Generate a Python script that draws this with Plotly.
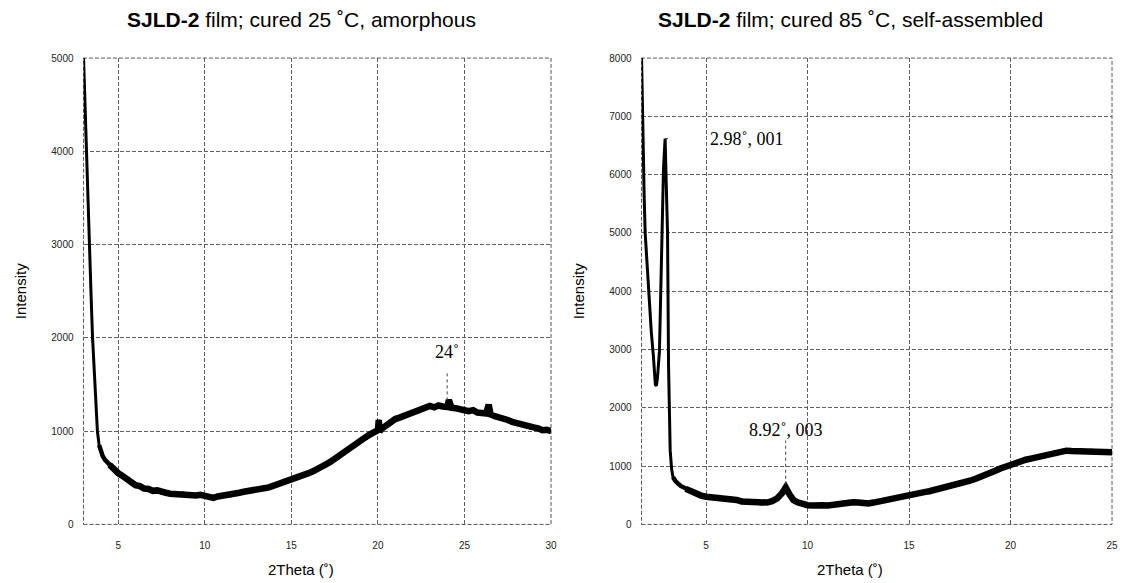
import plotly.graph_objects as go

# XRD scan of the film cured at 25 C (2Theta in degrees, intensity in counts)
theta_25 = [3.0, 3.08, 3.17, 3.25, 3.34, 3.43, 3.52, 3.6, 3.7, 3.8, 3.9, 4.0, 4.1, 4.25,
            4.5, 4.75, 5.0, 5.25, 5.5, 5.75, 6.0, 6.25, 6.5, 6.75, 7.0, 7.25, 7.5, 7.75,
            8.0, 8.25, 8.5, 8.75, 9.0, 9.25, 9.5, 9.75, 10.0, 10.25, 10.5, 10.75, 11.0,
            11.25, 11.5, 11.75, 12.0, 12.25, 12.5, 12.75, 13.0, 13.25, 13.5, 13.75, 14.0,
            14.25, 14.5, 14.75, 15.0, 15.25, 15.5, 15.75, 16.0, 16.25, 16.5, 16.75, 17.0,
            17.25, 17.5, 17.75, 18.0, 18.25, 18.5, 18.75, 19.0, 19.25, 19.5, 19.75, 20.0,
            20.05, 20.1, 20.25, 20.5, 20.75, 21.0, 21.25, 21.5, 21.75, 22.0, 22.25, 22.5,
            22.75, 23.0, 23.25, 23.5, 23.75, 24.0, 24.1, 24.2, 24.25, 24.5, 24.75, 25.0,
            25.25, 25.5, 25.75, 26.0, 26.25, 26.4, 26.5, 26.75, 27.0, 27.25, 27.5, 27.75,
            28.0, 28.25, 28.5, 28.75, 29.0, 29.25, 29.5, 29.75, 30.0]
counts_25 = [5000, 4480, 4000, 3650, 3000, 2480, 2000, 1680, 1330, 1000, 850, 780, 735, 690,
             640, 585, 550, 520, 480, 455, 420, 410, 385, 380, 360, 365, 345, 340,
             330, 325, 320, 330, 315, 320, 310, 318, 305, 290, 285, 300, 305,
             320, 315, 335, 340, 350, 355, 370, 375, 380, 390, 400, 415,
             430, 445, 465, 480, 495, 515, 530, 550, 570, 590, 620, 645,
             670, 705, 740, 770, 805, 835, 865, 895, 930, 960, 985, 1010,
             1120, 1000, 1030, 1070, 1100, 1130, 1145, 1165, 1180, 1195, 1220, 1245,
             1260, 1270, 1255, 1275, 1265, 1260, 1335, 1255, 1250, 1245, 1230, 1225,
             1215, 1225, 1200, 1195, 1190, 1285, 1180, 1160, 1150, 1135, 1120, 1100,
             1085, 1075, 1060, 1045, 1040, 1030, 1010, 1015, 1000]

# XRD scan of the film cured at 85 C
theta_85 = [1.82, 1.87, 1.95, 2.0, 2.1, 2.2, 2.3, 2.4, 2.45, 2.5, 2.55, 2.6, 2.7, 2.8, 2.9,
            2.98, 3.05, 3.1, 3.15, 3.23, 3.3, 3.37, 3.5, 3.75, 4.0, 4.25, 4.5, 4.75, 5.0,
            5.25, 5.5, 5.75, 6.0, 6.25, 6.5, 6.75, 7.0, 7.25, 7.5, 7.75, 8.0, 8.25, 8.5,
            8.75, 8.92, 9.1, 9.3, 9.5, 9.75, 10.0, 10.25, 10.5, 10.75, 11.0, 11.25, 11.5,
            11.75, 12.0, 12.25, 12.5, 12.75, 13.0, 13.25, 13.5, 13.75, 14.0, 14.25, 14.5,
            14.75, 15.0, 15.25, 15.5, 15.75, 16.0, 16.25, 16.5, 16.75, 17.0, 17.25, 17.5,
            17.75, 18.0, 18.25, 18.5, 18.75, 19.0, 19.25, 19.5, 19.75, 20.0, 20.25, 20.5,
            20.75, 21.0, 21.25, 21.5, 21.75, 22.0, 22.25, 22.5, 22.75, 23.0, 23.25, 23.5,
            23.75, 24.0, 24.25, 24.5, 24.75, 25.0]
counts_85 = [8000, 6900, 5600, 4990, 4400, 3860, 3300, 2900, 2600, 2400, 2380, 2500, 2960,
             4400, 6100, 6620, 5600, 4990, 2720, 1270, 950, 810, 740, 660, 610, 565, 530,
             495, 475, 470, 455, 445, 435, 430, 420, 395, 390, 375, 370, 365, 375, 400,
             445, 540, 635, 520, 420, 380, 345, 330, 325, 335, 330, 325, 340, 355,
             370, 385, 380, 375, 365, 360, 375, 395, 420, 440, 455, 475,
             490, 505, 520, 535, 555, 570, 590, 610, 630, 650, 670, 690,
             720, 750, 780, 810, 850, 880, 920, 960, 995, 1030, 1060, 1090,
             1110, 1130, 1150, 1175, 1200, 1220, 1245, 1255, 1265, 1260, 1255, 1255,
             1250, 1260, 1245, 1255, 1250, 1240]

titles = ["<b>SJLD-2</b> film; cured 25 ˚C, amorphous",
          "<b>SJLD-2</b> film; cured 85 ˚C, self-assembled"]
x_ticks_25 = [5, 10, 15, 20, 25, 30]
x_ticks_85 = [5, 10, 15, 20, 25]
y_ticks_25 = [0, 1000, 2000, 3000, 4000, 5000]
y_ticks_85 = [0, 1000, 2000, 3000, 4000, 5000, 6000, 7000, 8000]

W, H = 1125, 583
SANS = "Liberation Sans, Arial, sans-serif"
SERIF = "Liberation Serif, Times New Roman, serif"


def add_scan(fig, theta, counts, starts, xa, ya):
    """Draw a scan as stacked strokes: thin over the steep low-angle rise,
    widening gradually into the heavy noisy band at higher angles."""
    for width, start in zip((3, 4.5, 6.5), starts):
        i = theta.index(start)
        fig.add_trace(go.Scatter(x=theta[i:], y=counts[i:], mode="lines",
                                 line=dict(color="black", width=width), xaxis=xa, yaxis=ya,
                                 showlegend=False, hoverinfo="skip"))


fig = go.Figure()
add_scan(fig, theta_25, counts_25, (3.0, 3.9, 4.5), "x", "y")
add_scan(fig, theta_85, counts_85, (1.82, 3.37, 4.0), "x2", "y2")

# plot areas in page pixels
left_px = (84, 554)
right_px = (645, 1118)
top_px, bottom_px = 54, 528.5
ydom = [1 - bottom_px / H, 1 - top_px / H]

grid = dict(showgrid=True, gridcolor="#5f5f5f", gridwidth=1, griddash="4px,2px",
            zeroline=False, showline=False, ticks="",
            tickfont=dict(family=SANS, size=10, color="#222"))

fig.update_layout(
    width=W, height=H, margin=dict(l=0, r=0, t=0, b=0),
    paper_bgcolor="white", plot_bgcolor="white",
    xaxis=dict(domain=[left_px[0] / W, left_px[1] / W], range=[3, 30],
               tickvals=x_ticks_25, anchor="y", ticklabelstandoff=14, **grid),
    yaxis=dict(domain=ydom, range=[0, 5000], tickvals=y_ticks_25, anchor="x",
               ticklabelstandoff=9, **grid),
    xaxis2=dict(domain=[right_px[0] / W, right_px[1] / W], range=[1.82, 25],
                tickvals=x_ticks_85, anchor="y2", ticklabelstandoff=14, **grid),
    yaxis2=dict(domain=ydom, range=[0, 8000], tickvals=y_ticks_85, anchor="x2",
                ticklabelstandoff=9, **grid),
)

# dashed frames around both plot areas
for xr, yr in (("x", "y"), ("x2", "y2")):
    fig.add_shape(type="rect", xref=f"{xr} domain", yref=f"{yr} domain",
                  x0=0, x1=1, y0=0, y1=1, line=dict(color="#555", width=1, dash="4px,2px"),
                  layer="below")

# panel titles and axis titles (centred on each chart panel)
title_cx = (303, 855)
for i, (x0, x1) in enumerate((left_px, right_px)):
    cx = title_cx[i] / W
    fig.add_annotation(text=titles[i], x=cx, y=1 - 15 / H, xref="paper", yref="paper",
                       xanchor="center", yanchor="middle", showarrow=False,
                       font=dict(family=SANS, size=21, color="black"))
    fig.add_annotation(text="2Theta (˚)", x=cx, y=1 - 574 / H, xref="paper", yref="paper",
                       xanchor="center", yanchor="middle", showarrow=False,
                       font=dict(family=SANS, size=15, color="black"))
    fig.add_annotation(text="Intensity", x=(x0 - 64) / W, y=(ydom[0] + ydom[1]) / 2,
                       xref="paper", yref="paper", xanchor="center", yanchor="middle",
                       textangle=-90, showarrow=False,
                       font=dict(family=SANS, size=15, color="black"))

# peak labels
fig.add_annotation(text="24˚", x=24, y=1850, xref="x", yref="y", showarrow=False,
                   xanchor="center", yanchor="middle",
                   font=dict(family=SERIF, size=18, color="black"))
fig.add_shape(type="line", xref="x", yref="y", x0=24, x1=24, y0=1330, y1=1640,
              line=dict(color="#444", width=1, dash="dot"))

fig.add_annotation(text="2.98˚, 001", x=5.1, y=6620, xref="x2", yref="y2",
                   xanchor="left", yanchor="middle", showarrow=False,
                   font=dict(family=SERIF, size=18, color="black"))
fig.add_shape(type="line", xref="x2", yref="y2", x0=2.98, x1=3.12, y0=6620, y1=6620,
              line=dict(color="#444", width=1, dash="dot"))

fig.add_annotation(text="8.92˚, 003", x=8.92, y=1625, xref="x2", yref="y2",
                   xanchor="center", yanchor="middle", showarrow=False,
                   font=dict(family=SERIF, size=18, color="black"))
fig.add_shape(type="line", xref="x2", yref="y2", x0=8.92, x1=8.92, y0=680, y1=1440,
              line=dict(color="#444", width=1, dash="dot"))

fig.write_html("out.html")
